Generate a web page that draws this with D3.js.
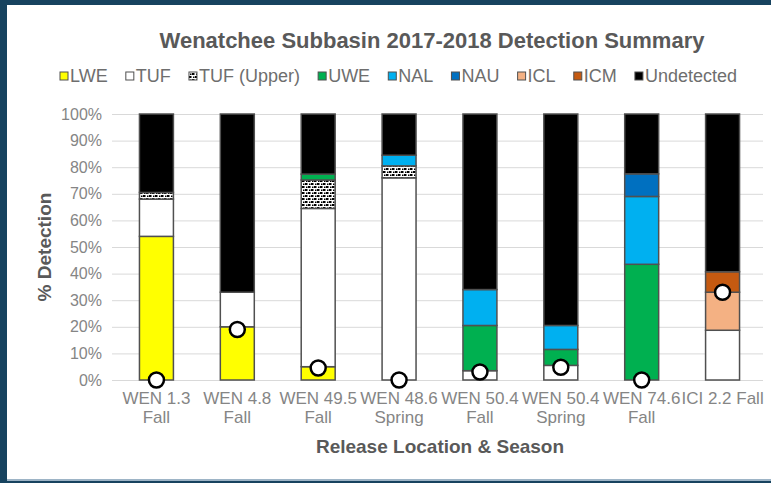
<!DOCTYPE html>
<html>
<head>
<meta charset="utf-8">
<script src="https://cdn.jsdelivr.net/npm/d3@7"></script>
<style>
  body { margin: 0; background: #ffffff; }
  svg { display: block; font-family: "Liberation Sans", Arial, sans-serif; }
</style>
</head>
<body>
<div id="chart"></div>
<script>
// categories (release location & season), each as label lines
var categories = ["WEN 1.3 Fall", "WEN 4.8 Fall", "WEN 49.5 Fall", "WEN 48.6 Spring",
                  "WEN 50.4 Fall", "WEN 50.4 Spring", "WEN 74.6 Fall", "ICI 2.2 Fall"];
var labelLines = [["WEN 1.3", "Fall"], ["WEN 4.8", "Fall"], ["WEN 49.5", "Fall"], ["WEN 48.6", "Spring"],
                  ["WEN 50.4", "Fall"], ["WEN 50.4", "Spring"], ["WEN 74.6", "Fall"], ["ICI 2.2 Fall"]];

var seriesNames = ["LWE", "TUF", "TUF (Upper)", "UWE", "NAL", "NAU", "ICL", "ICM", "Undetected"];

// % detection per series, one value per category
var LWE        = [54, 20, 5, 0, 0, 0, 0, 0];
var TUF        = [14, 13, 59.5, 76, 3.5, 5.5, 0, 18.7];
var TUFUpper   = [2.5, 0, 10.7, 4.5, 0, 0, 0, 0];
var UWE        = [0, 0, 2.2, 0, 17, 6, 43.5, 0];
var NAL        = [0, 0, 0, 4, 13.5, 9, 25.5, 0];
var NAU        = [0, 0, 0, 0, 0, 0, 8.5, 0];
var ICL        = [0, 0, 0, 0, 0, 0, 0, 14.3];
var ICM        = [0, 0, 0, 0, 0, 0, 0, 7.7];
var Undetected = [29.5, 67, 22.6, 15.5, 66, 79.5, 22.5, 59.3];

// white circle markers
var markers = [0, 19, 4.5, 0, 3, 4.8, 0, 33];

var yTicks = [0, 10, 20, 30, 40, 50, 60, 70, 80, 90, 100];

var colors = ["#ffff00", "#ffffff", "url(#confetti)", "#00b050", "#00b0f0", "#0070c0", "#f4b183", "#c55a11", "#000000"];

var W = 771, H = 483;
var margin = {top: 114, right: 8, bottom: 103, left: 116};
var width = W - margin.left - margin.right,
    height = H - margin.top - margin.bottom;

var svg = d3.select("#chart").append("svg")
    .attr("width", W)
    .attr("height", H);

// slide frame
svg.append("rect").attr("width", W).attr("height", H).attr("fill", "#17435f");
svg.append("rect").attr("x", 7).attr("y", 5).attr("width", W - 7).attr("height", 474).attr("fill", "#ffffff");
svg.append("rect").attr("x", 7).attr("y", 479).attr("width", W - 7).attr("height", 2).attr("fill", "#9db4c6");

var defs = svg.append("defs");
var pat = defs.append("pattern")
    .attr("id", "confetti")
    .attr("patternUnits", "userSpaceOnUse")
    .attr("width", 6).attr("height", 6);
pat.append("rect").attr("width", 6).attr("height", 6).attr("fill", "#ffffff");
pat.append("rect").attr("x", 0).attr("y", 0).attr("width", 2.5).attr("height", 2).attr("fill", "#000");
pat.append("rect").attr("x", 3).attr("y", 3).attr("width", 2.5).attr("height", 2).attr("fill", "#000");
pat.append("rect").attr("x", 4).attr("y", 0.5).attr("width", 1.5).attr("height", 1.5).attr("fill", "#000");
pat.append("rect").attr("x", 1).attr("y", 3.5).attr("width", 1.5).attr("height", 1.5).attr("fill", "#000");

var g = svg.append("g")
    .attr("transform", "translate(" + margin.left + "," + margin.top + ")");

var x = d3.scaleBand()
    .domain(categories)
    .range([0, width])
    .paddingInner(0.58)
    .paddingOuter(0.29);

var y = d3.scaleLinear()
    .domain([0, 100])
    .range([height, 0]);

// gridlines + y labels
var yAxis = g.append("g")
    .attr("class", "y axis")
    .call(d3.axisLeft(y).tickValues(yTicks).tickFormat(function(d) { return d + "%"; })
        .tickSize(-width - 4).tickPadding(10))
    .attr("transform", "translate(-4,0)");
yAxis.select(".domain").remove();
yAxis.selectAll("line").attr("stroke", "#d9d9d9").attr("stroke-width", 1);
yAxis.selectAll("text")
    .attr("fill", "#858585")
    .style("font-size", "16px")
    .attr("font-family", "Liberation Sans, Arial, sans-serif");

// stack the series
var table = categories.map(function(c, i) {
    return {cat: c, LWE: LWE[i], TUF: TUF[i], "TUF (Upper)": TUFUpper[i], UWE: UWE[i],
            NAL: NAL[i], NAU: NAU[i], ICL: ICL[i], ICM: ICM[i], Undetected: Undetected[i]};
});
var stacked = d3.stack().keys(seriesNames)(table);

var layers = g.selectAll(".layer")
    .data(stacked)
    .enter().append("g")
    .attr("class", "layer")
    .attr("fill", function(d, i) { return colors[i]; });

layers.selectAll("rect")
    .data(function(d) { return d.filter(function(p) { return p[1] - p[0] > 0; }); })
    .enter().append("rect")
    .attr("x", function(d) { return x(d.data.cat); })
    .attr("y", function(d) { return y(d[1]); })
    .attr("width", x.bandwidth())
    .attr("height", function(d) { return y(d[0]) - y(d[1]); })
    .attr("stroke", "#505050")
    .attr("stroke-width", 1.5);

// marker circles
g.selectAll(".marker")
    .data(markers)
    .enter().append("circle")
    .attr("class", "marker")
    .attr("cx", function(d, i) { return x(categories[i]) + x.bandwidth() / 2; })
    .attr("cy", function(d) { return y(d); })
    .attr("r", 7.5)
    .attr("fill", "#ffffff")
    .attr("stroke", "#000000")
    .attr("stroke-width", 2.5);

// x labels
var xAxis = g.append("g")
    .attr("class", "x axis")
    .attr("transform", "translate(0," + height + ")")
    .call(d3.axisBottom(x).tickSize(0).tickFormat(""));
xAxis.select(".domain").remove();
xAxis.selectAll(".tick").append("text")
    .attr("fill", "#858585")
    .attr("text-anchor", "middle")
    .style("font-size", "17px")
    .attr("font-family", "Liberation Sans, Arial, sans-serif")
    .selectAll("tspan")
    .data(function(d) { return labelLines[categories.indexOf(d)]; })
    .enter().append("tspan")
    .attr("x", 0)
    .attr("y", function(d, i) { return 24 + i * 19; })
    .text(function(d) { return d; });

// title
svg.append("text")
    .attr("x", 432).attr("y", 48)
    .attr("text-anchor", "middle")
    .attr("fill", "#595959")
    .style("font-size", "22px")
    .style("font-weight", "bold")
    .text("Wenatchee Subbasin 2017-2018 Detection Summary");

// axis titles
svg.append("text")
    .attr("transform", "translate(51,247) rotate(-90)")
    .attr("text-anchor", "middle")
    .attr("fill", "#595959")
    .style("font-size", "19px")
    .style("font-weight", "bold")
    .text("% Detection");

svg.append("text")
    .attr("x", 440).attr("y", 453)
    .attr("text-anchor", "middle")
    .attr("fill", "#595959")
    .style("font-size", "19px")
    .style("font-weight", "bold")
    .text("Release Location & Season");

// legend, laid out left to right between 60 and 737
var legend = svg.append("g").attr("class", "legend");
var items = legend.selectAll(".item")
    .data(seriesNames)
    .enter().append("g")
    .attr("class", "item");
items.append("rect")
    .attr("width", 8).attr("height", 8)
    .attr("y", -10)
    .attr("fill", function(d, i) { return colors[i]; })
    .attr("stroke", "#505050")
    .attr("stroke-width", 1);
items.append("text")
    .attr("x", 10)
    .attr("fill", "#6e6e6e")
    .style("font-size", "18px")
    .text(function(d) { return d; });

var widths = [];
items.each(function() { widths.push(10 + d3.select(this).select("text").node().getComputedTextLength()); });
var gap = (737 - 60 - d3.sum(widths)) / (seriesNames.length - 1);
var pos = 60;
items.attr("transform", function(d, i) {
    var t = "translate(" + pos + ",82)";
    pos += widths[i] + gap;
    return t;
});
</script>
</body>
</html>
